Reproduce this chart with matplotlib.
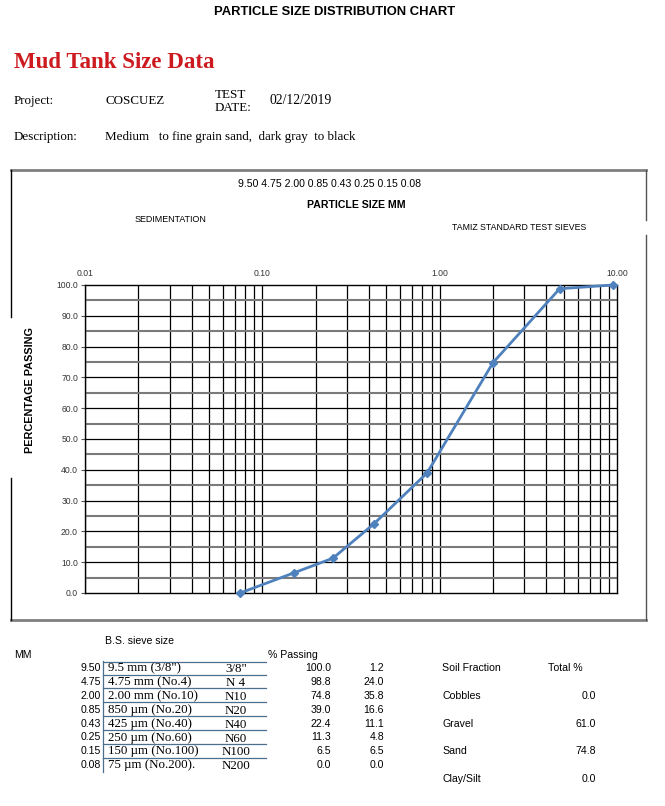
import numpy as np
import matplotlib
matplotlib.use("Agg")
import matplotlib.pyplot as plt
from matplotlib.lines import Line2D
from matplotlib.ticker import FixedLocator, NullFormatter

# sieve data
sieve_mm = ["9.50", "4.75", "2.00", "0.85", "0.43", "0.25", "0.15", "0.08"]
plot_size = [9.5, 4.75, 2.0, 0.85, 0.425, 0.25, 0.15, 0.075]
passing = [100.0, 98.8, 74.8, 39.0, 22.4, 11.3, 6.5, 0.0]
retained = [1.2, 24.0, 35.8, 16.6, 11.1, 4.8, 6.5, 0.0]
sieve_names = ['9.5 mm (3/8")', "4.75 mm (No.4)", "2.00 mm (No.10)", "850 µm (No.20)",
               "425 µm (No.40)", "250 µm (No.60)", "150 µm (No.100)", "75 µm (No.200)."]
sieve_no = ['3/8"', "N 4", "N10", "N20", "N40", "N60", "N100", "N200"]
fractions = ["Cobbles", "Gravel", "Sand", "Clay/Silt"]
fraction_pct = [0.0, 61.0, 74.8, 0.0]

W, H = 665, 806
SANS = "Liberation Sans"
SERIF = "Liberation Serif"

fig = plt.figure(figsize=(W / 100, H / 100), dpi=100)


def px(x, y):
    return x / W, 1 - y / H


def txt(x, y, s, **kw):
    kw.setdefault("va", "center")
    kw.setdefault("family", SANS)
    fig.text(*px(x, y), s, **kw)


# header
txt(335, 12, "PARTICLE SIZE DISTRIBUTION CHART", ha="center", fontsize=9.4, weight="bold")
txt(14, 62, "Mud Tank Size Data", family=SERIF, fontsize=16.5, weight="bold", color="#cc1a1f")
txt(14, 101, "Project:", family=SERIF, fontsize=9.4)
txt(105, 101, "COSCUEZ", family=SERIF, fontsize=9.4)
txt(215, 95, "TEST", family=SERIF, fontsize=9.4)
txt(215, 108, "DATE:", family=SERIF, fontsize=9.4)
txt(270, 101, "02/12/2019", family=SERIF, fontsize=9.8)
txt(14, 137, "Description:", family=SERIF, fontsize=9.4)
txt(105, 137, "Medium   to fine grain sand,  dark gray  to black", family=SERIF, fontsize=9.4)

# frame around the chart
def fline(x0, y0, x1, y1, **kw):
    (a, b), (c, d) = px(x0, y0), px(x1, y1)
    fig.add_artist(Line2D([a, c], [b, d], **kw))

fline(11, 170, 646, 170, color="#808080", lw=2)
fline(11, 620, 646, 620, color="#808080", lw=2)
fline(11, 170, 11, 317, color="black", lw=1)
fline(11, 478, 11, 620, color="black", lw=1)
fline(646, 170, 646, 220, color="#555555", lw=1)
fline(646, 235, 646, 620, color="#555555", lw=1)

txt(329, 184, " ".join(sieve_mm), ha="center", fontsize=7.6)
txt(356, 205, "PARTICLE SIZE MM", ha="center", fontsize=7.6, weight="bold")
txt(135, 219, "SEDIMENTATION", fontsize=6.4)
txt(452, 227, "TAMIZ STANDARD TEST SIEVES", fontsize=6.3)
txt(30, 390, "PERCENTAGE PASSING", ha="center", rotation=90, fontsize=7.8, weight="bold")

# chart
l, b = px(85, 593)
r, t = px(617, 285)
ax = fig.add_axes([l, b, r - l, t - b])
ax.set_xscale("log")
ax.set_xlim(0.01, 10)
ax.set_ylim(0, 100)

for dec in [0.01, 0.1, 1.0]:
    for k in range(1, 10):
        ax.axvline(dec * k, color="black", lw=0.9, zorder=1)
for yv in range(5, 100, 10):
    ax.axhline(yv, color="#7a7a7a", lw=1.5, zorder=1)
for yv in range(10, 100, 10):
    ax.axhline(yv, color="black", lw=0.9, zorder=1)

ax.plot(plot_size, passing, color="#4f81bd", lw=2, marker="D", ms=4.5, zorder=3, clip_on=False)

for sp in ax.spines.values():
    sp.set_color("black")
    sp.set_linewidth(1)

ax.xaxis.tick_top()
ax.xaxis.set_major_locator(FixedLocator([0.01, 0.1, 1, 10]))
ax.xaxis.set_minor_formatter(NullFormatter())
ax.set_xticklabels(["0.01", "0.10", "1.00", "10.00"], fontsize=6.2, color="#333333", family=SANS)
ax.tick_params(axis="x", which="both", length=0, pad=5)
ax.set_yticks(range(0, 101, 10))
ax.set_yticklabels([f"{v:.1f}" for v in range(0, 101, 10)], fontsize=6.2, color="#333333", family=SANS)
ax.tick_params(axis="y", length=3, width=0.8, pad=2, color="#555555")

# table
txt(105, 641, "B.S. sieve size", fontsize=7.6)
txt(14, 655, "MM", fontsize=7.6)
txt(268, 655, "% Passing", fontsize=7.6)

y0, step = 668, 13.9
fline(103, 661, 103, 772, color="#4a6f8f", lw=0.9)
fline(103, 662, 266, 662, color="#4a6f8f", lw=0.9)
for i in range(len(sieve_mm)):
    y = y0 + i * step
    txt(101, y, sieve_mm[i], ha="right", fontsize=7.6)
    txt(108, y, sieve_names[i], family=SERIF, fontsize=9.3)
    txt(236, y + 1, sieve_no[i], ha="center", family=SERIF, fontsize=9.3)
    txt(331, y, f"{passing[i]:.1f}", ha="right", fontsize=7.6)
    txt(384, y, f"{retained[i]:.1f}", ha="right", fontsize=7.6)
    if i < len(sieve_mm) - 1:
        fline(103, y + 6.5, 266, y + 6.5, color="#4a6f8f", lw=0.9)

txt(442, 668, "Soil Fraction", fontsize=7.6)
txt(548, 668, "Total %", fontsize=7.6)
for i in range(len(fractions)):
    y = 696 + i * 27.7
    txt(442, y, fractions[i], fontsize=7.6)
    txt(596, y, f"{fraction_pct[i]:.1f}", ha="right", fontsize=7.6)

fig.savefig("out.png", dpi=100)
